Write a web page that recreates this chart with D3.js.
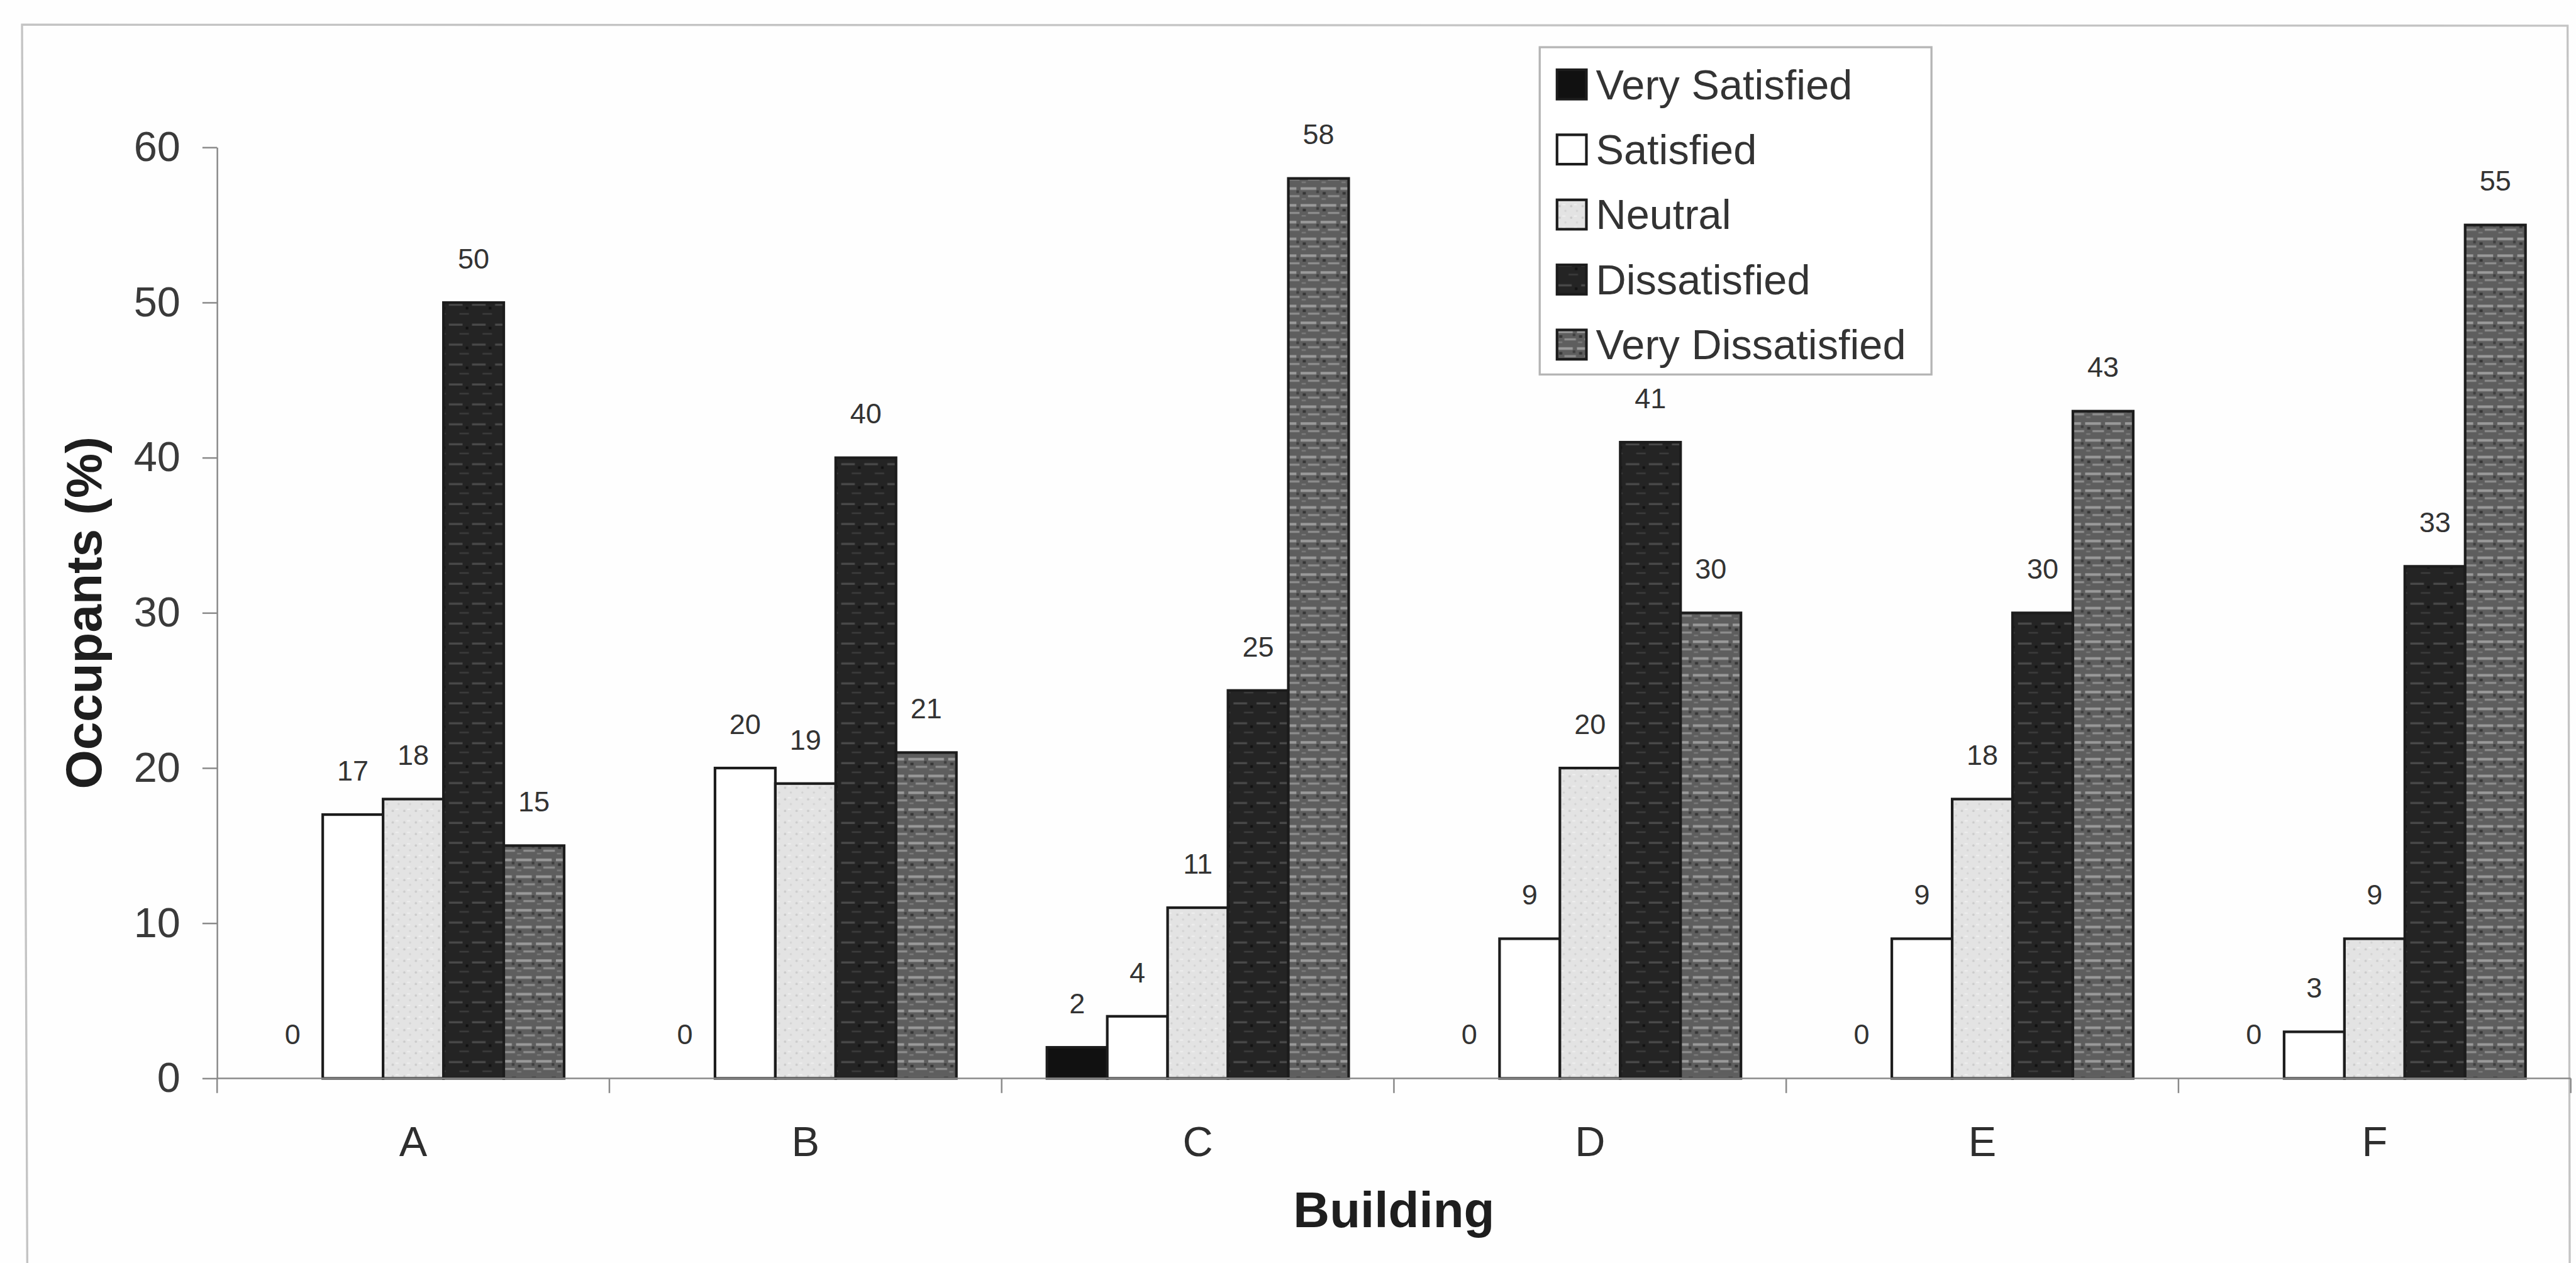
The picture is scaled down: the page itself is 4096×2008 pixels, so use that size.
<!DOCTYPE html>
<html>
<head>
<meta charset="utf-8">
<script src="https://cdn.jsdelivr.net/npm/d3@7"></script>
<style>
  html, body { margin: 0; padding: 0; background: #fff; }
  svg { display: block; }
  text { font-family: "Liberation Sans", Arial, sans-serif; }
</style>
</head>
<body>
<svg id="chart" width="4096" height="2008" viewBox="0 0 4912 2408"></svg>
<script>
// Occupant satisfaction by building (% of respondents)
const categories = ["A", "B", "C", "D", "E", "F"];
const seriesNames = ["Very Satisfied", "Satisfied", "Neutral", "Dissatisfied", "Very Dissatisfied"];
const verySatisfied    = [0, 0, 2, 0, 0, 0];
const satisfied        = [17, 20, 4, 9, 9, 3];
const neutral          = [18, 19, 11, 20, 18, 9];
const dissatisfied     = [50, 40, 25, 41, 30, 33];
const veryDissatisfied = [15, 21, 58, 30, 43, 55];
const yTicks = [0, 10, 20, 30, 40, 50, 60];
const xTitle = "Building";
const yTitle = "Occupants (%)";

const seriesValues = [verySatisfied, satisfied, neutral, dissatisfied, veryDissatisfied];
const rows = categories.map((c, i) => ({
  building: c,
  values: seriesNames.map((s, k) => ({ series: s, value: seriesValues[k][i] }))
}));

const svg = d3.select("#chart");
svg.append("rect").attr("width", 4912).attr("height", 2408).attr("fill", "#fefefe");

// fill textures for each response class
const defs = svg.append("defs");
const pN = defs.append("pattern").attr("id", "pNeutral").attr("patternUnits", "userSpaceOnUse")
  .attr("width", 22).attr("height", 22);
pN.append("rect").attr("width", 22).attr("height", 22).attr("fill", "#e3e3e3");
pN.append("circle").attr("cx", 5).attr("cy", 6).attr("r", 2.2).attr("fill", "#cbcbcb");
pN.append("circle").attr("cx", 16).attr("cy", 15).attr("r", 2).attr("fill", "#d2d2d2");
pN.append("rect").attr("x", 10).attr("y", 2).attr("width", 6).attr("height", 2).attr("fill", "#f2f2f2");

const pD = defs.append("pattern").attr("id", "pDiss").attr("patternUnits", "userSpaceOnUse")
  .attr("width", 44).attr("height", 38);
pD.append("rect").attr("width", 44).attr("height", 38).attr("fill", "#242424");
pD.append("rect").attr("x", 2).attr("y", 9).attr("width", 26).attr("height", 4).attr("fill", "#4a4a4a");
pD.append("rect").attr("x", 22).attr("y", 27).attr("width", 18).attr("height", 3).attr("fill", "#3c3c3c");
pD.append("rect").attr("x", 34).attr("y", 15).attr("width", 5).attr("height", 5).attr("fill", "#111");

const pVD = defs.append("pattern").attr("id", "pVeryDiss").attr("patternUnits", "userSpaceOnUse")
  .attr("width", 38).attr("height", 32);
pVD.append("rect").attr("width", 38).attr("height", 32).attr("fill", "#5e5e5e");
pVD.append("rect").attr("x", 0).attr("y", 5).attr("width", 30).attr("height", 5).attr("fill", "#9a9a9a");
pVD.append("rect").attr("x", 14).attr("y", 20).attr("width", 22).attr("height", 4).attr("fill", "#8c8c8c");
pVD.append("rect").attr("x", 4).attr("y", 14).attr("width", 6).attr("height", 5).attr("fill", "#363636");
pVD.append("rect").attr("x", 30).attr("y", 11).attr("width", 5).attr("height", 5).attr("fill", "#3e3e3e");
pVD.append("rect").attr("x", 2).attr("y", 26).attr("width", 8).attr("height", 3).attr("fill", "#7a7a7a");

const fills = d3.scaleOrdinal()
  .domain(seriesNames)
  .range(["#111111", "#ffffff", "url(#pNeutral)", "url(#pDiss)", "url(#pVeryDiss)"]);

// outer chart border
svg.append("path")
  .attr("d", "M52,2408 L42,47 L4896,49 L4900,2408")
  .attr("fill", "none").attr("stroke", "#c4c4c4").attr("stroke-width", 4);

// scales
const plot = { left: 414, right: 4902, top: 281, bottom: 2056 };
const x0 = d3.scaleBand().domain(categories).range([plot.left, plot.right]).paddingInner(0).paddingOuter(0);
const x1 = d3.scaleBand().domain(seriesNames).range([0, x0.bandwidth()]).paddingInner(0).paddingOuter(0.75);
const y = d3.scaleLinear().domain([0, 60]).range([plot.bottom, plot.top]);

// y axis
const yAxis = svg.append("g")
  .attr("transform", `translate(${plot.left},0)`)
  .call(d3.axisLeft(y).tickValues(yTicks).tickSize(28).tickPadding(42).tickSizeOuter(0));
yAxis.select(".domain").attr("stroke", "#8a8a8a").attr("stroke-width", 3);
yAxis.selectAll(".tick line").attr("stroke", "#8a8a8a").attr("stroke-width", 3);
yAxis.selectAll(".tick text").attr("font-size", 80).attr("fill", "#3a3a3a")
  .attr("font-family", "'Liberation Sans', Arial, sans-serif");

// bars
const groups = svg.append("g").selectAll("g")
  .data(rows).join("g")
  .attr("transform", d => `translate(${x0(d.building)},0)`);

groups.selectAll("rect")
  .data(d => d.values).join("rect")
  .attr("x", d => x1(d.series))
  .attr("y", d => y(d.value))
  .attr("width", x1.bandwidth())
  .attr("height", d => y(0) - y(d.value))
  .attr("fill", d => fills(d.series))
  .attr("stroke", "#1c1c1c")
  .attr("stroke-width", d => d.value > 0 ? 5 : 0);

groups.selectAll("text")
  .data(d => d.values).join("text")
  .attr("x", d => x1(d.series) + x1.bandwidth() / 2)
  .attr("y", d => y(d.value) - 65)
  .attr("text-anchor", "middle")
  .attr("font-size", 54)
  .attr("fill", "#333")
  .text(d => d.value);

// x axis: line, ticks between buildings, labels centred in each band
const xAxis = svg.append("g")
  .attr("transform", `translate(0,${plot.bottom})`)
  .call(d3.axisBottom(x0).tickSize(0).tickPadding(91));
xAxis.select(".domain").remove();
xAxis.selectAll(".tick text").attr("font-size", 80).attr("fill", "#2e2e2e")
  .attr("font-family", "'Liberation Sans', Arial, sans-serif");
xAxis.append("line")
  .attr("x1", plot.left).attr("x2", plot.right).attr("y1", 0).attr("y2", 0)
  .attr("stroke", "#8a8a8a").attr("stroke-width", 3);
const boundaries = categories.map(c => x0(c)).concat([plot.right]);
xAxis.selectAll(".bound").data(boundaries).join("line")
  .attr("class", "bound")
  .attr("x1", d => d).attr("x2", d => d).attr("y1", 0).attr("y2", 28)
  .attr("stroke", "#8a8a8a").attr("stroke-width", 3);

// axis titles
svg.append("text")
  .attr("x", (plot.left + plot.right) / 2).attr("y", 2340)
  .attr("text-anchor", "middle").attr("font-size", 96).attr("font-weight", "bold").attr("fill", "#1e1e1e")
  .text(xTitle);
svg.append("text")
  .attr("transform", `translate(160,${(plot.top + plot.bottom) / 2}) rotate(-90)`)
  .attr("text-anchor", "middle").attr("dy", "0.35em")
  .attr("font-size", 96).attr("font-weight", "bold").attr("fill", "#1e1e1e")
  .text(yTitle);

// legend
const legend = svg.append("g").attr("transform", "translate(2936,90)");
legend.append("rect").attr("width", 747).attr("height", 624)
  .attr("fill", "#fff").attr("stroke", "#b5b5b5").attr("stroke-width", 4);
const items = legend.selectAll("g.item").data(seriesNames).join("g")
  .attr("class", "item")
  .attr("transform", (d, i) => `translate(33,${71 + i * 124})`);
items.append("rect")
  .attr("x", 0).attr("y", -28).attr("width", 56).attr("height", 56)
  .attr("fill", d => fills(d)).attr("stroke", "#1c1c1c").attr("stroke-width", 5);
items.append("text")
  .attr("x", 74).attr("dy", "0.35em")
  .attr("font-size", 80).attr("fill", "#333")
  .text(d => d);
</script>
</body>
</html>
